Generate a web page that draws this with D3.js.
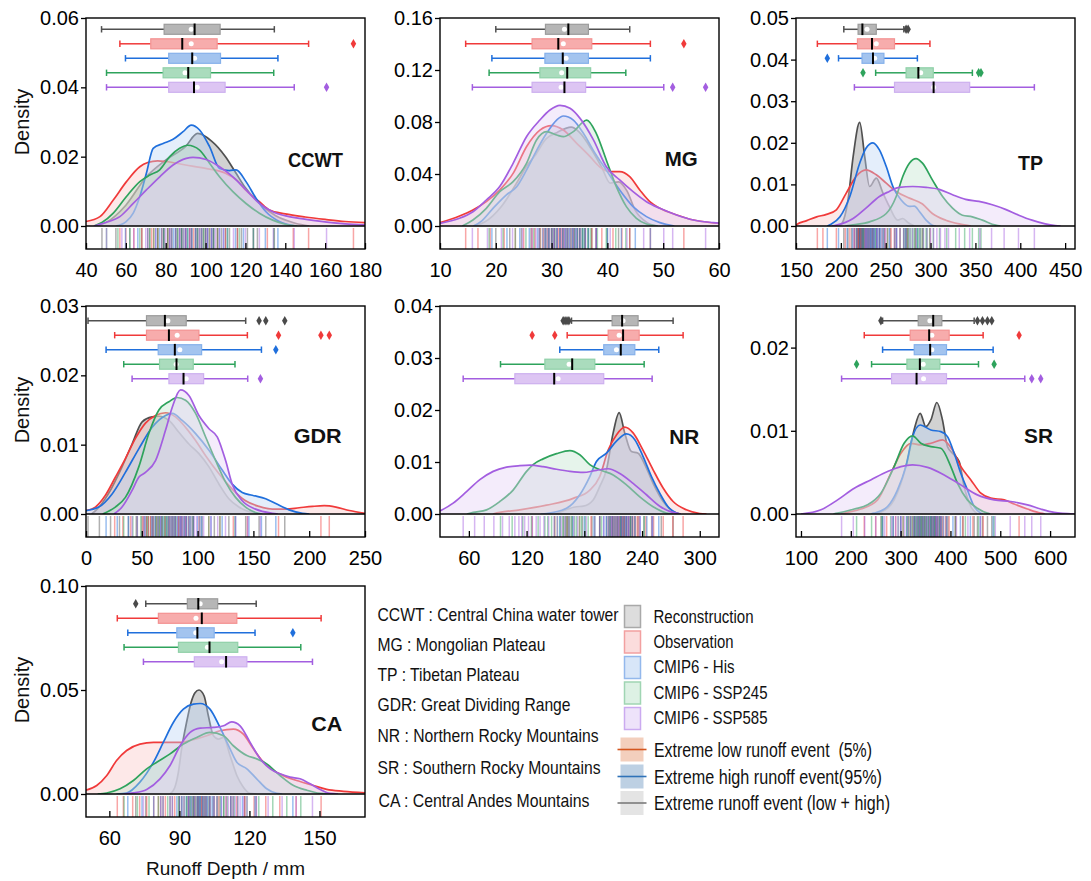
<!DOCTYPE html>
<html>
<head>
<meta charset="utf-8">
<script src="https://cdn.jsdelivr.net/npm/d3@7"></script>
<style>
  body { margin: 0; background: #fff; }
  svg { display: block; font-family: "Liberation Sans", Arial, Helvetica, sans-serif; }
</style>
</head>
<body>
<svg id="chart" width="1091" height="881"></svg>
<script>
// ---------------------------------------------------------------
// Series and regions
// ---------------------------------------------------------------
const seriesNames = ["Reconstruction", "Observation", "CMIP6 - His", "CMIP6 - SSP245", "CMIP6 - SSP585"];
const regionCodes = ["CCWT", "MG", "TP", "GDR", "NR", "SR", "CA"];
const regionTitles = [
  "CCWT : Central China water tower",
  "MG : Mongolian Plateau",
  "TP : Tibetan Plateau",
  "GDR: Great Dividing Range",
  "NR : Northern Rocky Mountains",
  "SR : Southern Rocky Mountains",
  "CA : Central Andes Mountains"
];
const eventLabels = [
  "Extreme low runoff event  (5%)",
  "Extreme high runoff event(95%)",
  "Extreme runoff event (low + high)"
];

// Axis domains and tick labels per region
const xDomains = [[40, 180], [10, 60], [150, 461], [0, 250], [30, 320], [90, 650], [50, 169.5]];
const yMaxes = [0.06, 0.16, 0.05, 0.03, 0.04, 0.025, 0.10];
const xTickValues = [
  [40, 60, 80, 100, 120, 140, 160, 180],
  [10, 20, 30, 40, 50, 60],
  [150, 200, 250, 300, 350, 400, 450],
  [0, 50, 100, 150, 200, 250],
  [60, 120, 180, 240, 300],
  [100, 200, 300, 400, 500, 600],
  [60, 90, 120, 150]
];
const yTickValues = [
  [0, 0.02, 0.04, 0.06],
  [0, 0.04, 0.08, 0.12, 0.16],
  [0, 0.01, 0.02, 0.03, 0.04, 0.05],
  [0, 0.01, 0.02, 0.03],
  [0, 0.01, 0.02, 0.03, 0.04],
  [0, 0.01, 0.02],
  [0, 0.05, 0.10]
];

// ---------------------------------------------------------------
// Kernel density curves: [runoff depth (mm), density]
// order: Reconstruction, Observation, His, SSP245, SSP585
// ---------------------------------------------------------------
const densityCCWT = [
  [[45,0],[50,0.001],[60,0.006],[70,0.014],[80,0.019],[90,0.023],[96,0.0267],[103,0.0245],[110,0.02],[115,0.0155],[120,0.011],[127,0.0065],[135,0.003],[145,0.0008],[152,0]],
  [[40,0.0013],[47,0.0027],[53.7,0.0075],[60.3,0.0128],[67,0.0171],[71,0.0183],[76,0.0188],[80,0.0186],[90,0.0176],[100,0.0166],[110,0.0152],[116,0.013],[120,0.0104],[127,0.007],[132,0.0046],[140,0.0035],[150,0.0026],[160,0.0019],[170,0.0013],[180,0.001]],
  [[55,0],[60,0.0012],[63.7,0.0037],[67,0.0085],[70.3,0.0152],[73.7,0.0224],[78.7,0.0238],[83.7,0.025],[88.7,0.0272],[92.8,0.0291],[97,0.0277],[102,0.0229],[107,0.0166],[112,0.016],[115.3,0.0162],[120.3,0.0128],[125.3,0.008],[130.3,0.0041],[137,0.0013],[145,0]],
  [[44,0],[48,0.001],[53.7,0.0037],[60.3,0.0085],[67,0.0128],[72,0.0147],[77,0.0162],[82,0.02],[87,0.0224],[91,0.0233],[97,0.0219],[102,0.0181],[107,0.0142],[113.7,0.0099],[120.3,0.0065],[127,0.0037],[133.7,0.0017],[140,0.0005],[146,0]],
  [[44,0],[50,0.001],[57,0.0027],[63.7,0.0065],[70.3,0.0104],[77,0.0142],[83.7,0.0176],[90.3,0.0195],[93.7,0.0198],[100.3,0.0192],[107,0.0171],[113.7,0.0142],[120.3,0.0104],[127,0.0065],[133.7,0.0041],[140.3,0.0029],[147,0.0022],[157,0.0014],[170,0.0006],[180,0.0003]]
];
const densityMG = [
  [[16,0],[18,0.003],[21,0.015],[24,0.035],[25.5,0.046],[27,0.054],[29,0.067],[31,0.072],[33.5,0.076],[35,0.072],[37,0.06],[39,0.045],[40.5,0.033],[42,0.034],[43.5,0.027],[45,0.012],[47,0.003],[49,0]],
  [[10,0.0026],[13.5,0.0077],[15.9,0.0123],[18.3,0.0187],[20.7,0.0277],[23.1,0.0405],[25.5,0.061],[27.9,0.0738],[30,0.0772],[32.1,0.0738],[34.5,0.0636],[36.9,0.0533],[38.6,0.0456],[40.4,0.0418],[42.2,0.0418],[44,0.038],[45.8,0.0277],[47.6,0.0187],[49.4,0.0136],[52.4,0.0085],[55.4,0.0046],[60,0.002]],
  [[16,0],[17.5,0.004],[19.5,0.0136],[21.9,0.024],[23.7,0.03],[25.5,0.043],[27.3,0.058],[29.1,0.0713],[30.9,0.0815],[32.1,0.0846],[33.9,0.0815],[35.7,0.0713],[37.5,0.058],[39.8,0.043],[42.2,0.0277],[44.6,0.0149],[47,0.0072],[49.4,0.0026],[52,0]],
  [[14,0],[15.9,0.0046],[18.3,0.0136],[20.7,0.0264],[23.1,0.0341],[25.5,0.0482],[27.3,0.0662],[29.1,0.0726],[30.9,0.07],[32.1,0.0687],[33.9,0.0726],[36.3,0.0815],[38,0.0713],[39.8,0.0508],[41.6,0.0303],[43.4,0.0149],[45.2,0.0059],[47,0.0015],[49,0]],
  [[10,0.002],[13.5,0.0059],[15.9,0.011],[18.3,0.02],[20.7,0.0303],[23.1,0.0482],[25.5,0.0687],[27.9,0.0815],[29.7,0.0892],[31.5,0.0928],[33.3,0.0905],[35.1,0.0828],[37.5,0.0662],[39.8,0.0456],[42.2,0.0354],[44.6,0.0264],[47,0.0187],[49.4,0.0136],[52.4,0.0085],[55.4,0.0046],[59,0.0026],[60,0.0022]]
];
const densityTP = [
  [[198,0],[201,0.0005],[208,0.0063],[213.7,0.0167],[221,0.0249],[226.6,0.0167],[232,0.0095],[239.5,0.0115],[247,0.0079],[254,0.0047],[263.5,0.0014],[269,0.0018],[275,0.0008],[282,0]],
  [[150,0],[151,0.0004],[162,0.0013],[173,0.0022],[184,0.0028],[195,0.0039],[206,0.0079],[217,0.0119],[228,0.0135],[239.5,0.0123],[250.6,0.0103],[261.7,0.0083],[276.4,0.0067],[291,0.0053],[302,0.003],[317,0.0014],[332,0.0005],[345,0]],
  [[185,0],[188,0.0003],[199,0.0022],[210,0.0071],[221,0.0151],[228,0.0187],[235.8,0.02],[243,0.0183],[250.6,0.0143],[258,0.0095],[267,0.0063],[276.4,0.0047],[282,0.0048],[287.5,0.0035],[295,0.0014],[302,0.0002],[306,0]],
  [[205,0],[213.7,0.0003],[232,0.001],[250.6,0.003],[261.7,0.0071],[269,0.0119],[276.4,0.0151],[283.8,0.0162],[291,0.0151],[302,0.0111],[313.4,0.0071],[324.5,0.0043],[335.5,0.0026],[346.6,0.0022],[357.7,0.0014],[372.5,0.0002],[378,0]],
  [[190,0],[195,0.0002],[213.7,0.0018],[228,0.0043],[243,0.0071],[254,0.0083],[265,0.0093],[280,0.0095],[295,0.0093],[309.7,0.0088],[324.5,0.0075],[339,0.0064],[354,0.0059],[368.8,0.0051],[383.5,0.004],[398.3,0.0026],[413,0.0014],[427.8,0.0005],[439,0.0001],[445,0]]
];
const densityGDR = [
  [[5,0],[10,0.0007],[20,0.0029],[32.3,0.0068],[41.3,0.0101],[50.3,0.0133],[59.3,0.014],[65.3,0.0141],[74.3,0.0135],[83.2,0.0118],[92.2,0.0101],[101.2,0.0087],[110.2,0.0068],[119.2,0.0043],[128,0.0022],[137,0.001],[149,0.0002],[155,0]],
  [[0,0.0005],[8.4,0.001],[17.4,0.0027],[26.3,0.0053],[35.3,0.008],[44.3,0.0109],[53.3,0.0131],[62.3,0.0142],[71.3,0.0146],[80.2,0.014],[89.2,0.0125],[98.2,0.0106],[107.2,0.0084],[119.2,0.0058],[131,0.0036],[143,0.0019],[155,0.0011],[167,0.0007],[179,0.0007],[191,0.0009],[203,0.0011],[213.5,0.0012],[224,0.001],[236,0.0005],[250,0.0001]],
  [[0,0.0005],[11.4,0.001],[23.4,0.0029],[35.3,0.006],[47.3,0.0094],[59.3,0.0125],[71.3,0.0142],[77.3,0.0145],[86.2,0.0135],[98.2,0.0116],[110.2,0.0092],[122.2,0.0063],[131,0.0043],[140,0.0031],[149,0.0027],[161,0.0022],[170,0.0015],[182,0.0006],[194,0.0001],[200,0]],
  [[15,0],[26.3,0.001],[35.3,0.0024],[47.3,0.0068],[56.3,0.0116],[65.3,0.015],[74.3,0.0162],[81.7,0.0168],[89.2,0.0164],[98.2,0.0145],[107.2,0.0111],[116.2,0.0077],[125.1,0.0046],[134,0.0024],[143,0.001],[152,0.0002],[158,0]],
  [[25,0],[32.3,0.001],[41.3,0.0034],[47.3,0.0053],[53.3,0.006],[62.3,0.0077],[71.3,0.0121],[77.3,0.0154],[84.7,0.0179],[92.2,0.0171],[101.2,0.0142],[110.2,0.0123],[117.7,0.0111],[125.1,0.0077],[131,0.0043],[140,0.0019],[152,0.0007],[167,0.0001],[172,0]]
];
const densityNR = [
  [[150,0],[171.9,0.0014],[178.8,0.0015],[189.2,0.0027],[196.1,0.0053],[203,0.0085],[210,0.0156],[216.2,0.0195],[222,0.0156],[229,0.012],[235.9,0.0117],[242.9,0.0095],[251.5,0.0059],[262,0.0024],[272.3,0.0005],[280,0]],
  [[85,0],[92,0.0003],[113,0.0008],[140.7,0.0017],[168.4,0.003],[185.7,0.0046],[196,0.0072],[204.8,0.0123],[213.4,0.0152],[222,0.0167],[230.7,0.0156],[241,0.0123],[251.5,0.0085],[261.9,0.005],[272.3,0.0024],[286,0.0008],[300,0.0001],[307,0]],
  [[135,0],[140.7,0.0001],[161.5,0.0011],[175.3,0.0037],[185.7,0.0072],[192.6,0.0101],[203,0.0117],[213.4,0.014],[223.8,0.0154],[232.5,0.0143],[241,0.0111],[249.8,0.0072],[258.4,0.004],[267,0.0014],[275.7,0.0002],[280,0]],
  [[58,0],[64.5,0.0003],[78.4,0.0008],[92.2,0.0024],[106,0.0046],[120,0.0082],[126.8,0.0095],[137.2,0.0106],[151.1,0.0116],[165,0.0122],[175.3,0.0114],[185.7,0.0095],[196.1,0.0085],[210,0.0075],[223.8,0.0056],[237.7,0.0033],[251.5,0.0014],[265.4,0.0002],[272,0]],
  [[30,0.0006],[43.7,0.0021],[57.6,0.0043],[71.4,0.0066],[85.3,0.0082],[99.1,0.009],[113,0.0093],[123.4,0.0094],[137.2,0.0091],[151.1,0.0086],[165,0.0082],[178.8,0.008],[192.6,0.0084],[204.8,0.0087],[216.9,0.0078],[230.7,0.0059],[244.6,0.0037],[258.4,0.0015],[268.8,0.0005],[280,0]]
];
const densitySR = [
  [[250,0],[260,0.0002],[287,0.0017],[314,0.0065],[327,0.0101],[339.3,0.0121],[350.6,0.0105],[360.7,0.0113],[372.7,0.0134],[384,0.0113],[394,0.0081],[407.5,0.0071],[417.5,0.0063],[427.5,0.0033],[441,0.0009],[454,0]],
  [[180,0],[193.6,0.0002],[220,0.0006],[253.7,0.0017],[280.5,0.0049],[300.5,0.0073],[320.6,0.0085],[340.6,0.0083],[360.7,0.0085],[384,0.0089],[404,0.0077],[421,0.0057],[441,0.0041],[461,0.0025],[481,0.0019],[508,0.0017],[527.8,0.0012],[554.5,0.0006],[581,0.0001],[590,0]],
  [[240,0],[247,0.0001],[273.8,0.0009],[293.8,0.0029],[310.5,0.0057],[324,0.0093],[339.3,0.0107],[360.7,0.0101],[380.7,0.0099],[394,0.0093],[407.5,0.0073],[420.8,0.0049],[434,0.0029],[447.6,0.0009],[461,0.0001],[465,0]],
  [[165,0],[173.5,0.0001],[207,0.0006],[233.7,0.0011],[260.4,0.0025],[287,0.0057],[307,0.0085],[324,0.0094],[340.6,0.0085],[360.7,0.0081],[380.7,0.0079],[400.8,0.0057],[414,0.0037],[434,0.0017],[454,0.0007],[474,0.0001],[480,0]],
  [[100,0],[140,0.0005],[173.5,0.0017],[207,0.0031],[240,0.0041],[273.8,0.0051],[300.5,0.0057],[324,0.0059],[354,0.0056],[387.4,0.0047],[420.8,0.0035],[454,0.0023],[487.7,0.0017],[521,0.0015],[554.5,0.0011],[581,0.0006],[608,0.0002],[648,0]]
];
const densityCA = [
  [[86,0],[88,0.003],[89.5,0.01],[91,0.022],[93,0.034],[95,0.044],[96.7,0.0487],[98.4,0.05],[100.6,0.0471],[102.4,0.0376],[104.6,0.028],[106.7,0.0264],[108.9,0.0272],[111.7,0.0185],[114.6,0.0089],[117.4,0.0033],[120.3,0.0003],[123,0]],
  [[50,0.0018],[54.6,0.0041],[58.9,0.0089],[63.1,0.0161],[67.4,0.0209],[73.1,0.024],[78.9,0.0248],[84.6,0.0248],[90.3,0.0248],[96,0.0261],[101.7,0.028],[107.4,0.0304],[113.1,0.0312],[117.4,0.0288],[121.7,0.0217],[126,0.0153],[130.3,0.0113],[136,0.0081],[141.7,0.006],[147.4,0.0041],[153.1,0.0022],[160.3,0.0013],[169.5,0.0006]],
  [[63,0],[67.4,0.0005],[73.1,0.0057],[78.9,0.0153],[83.1,0.0248],[87.4,0.0344],[91.7,0.0408],[96,0.0432],[98.9,0.0435],[103.1,0.0408],[107.4,0.032],[111.7,0.0217],[114.6,0.0153],[118.9,0.0121],[123.1,0.0073],[127.4,0.0025],[131.7,0.0003],[134,0]],
  [[55,0],[58.9,0.0005],[64.6,0.0025],[70.3,0.0065],[76,0.0121],[80.3,0.0153],[86,0.0193],[91.7,0.024],[97.4,0.0272],[103.1,0.0296],[108.9,0.028],[113.1,0.0232],[118.9,0.0185],[123.1,0.0169],[127.4,0.0145],[133.1,0.0089],[138.9,0.0041],[144.6,0.0018],[150.3,0.0003],[154,0]],
  [[66,0],[70.3,0.0005],[76,0.0022],[81.7,0.0073],[86,0.0137],[90.3,0.0232],[94.6,0.0296],[98.9,0.0317],[104.6,0.032],[108.9,0.0328],[112.4,0.0347],[116,0.0328],[120.3,0.0248],[124.6,0.0169],[128.9,0.0121],[133.1,0.0097],[137.4,0.0081],[141.7,0.0073],[146,0.0049],[150.3,0.0022],[154.6,0.0003],[158,0]]
];

// ---------------------------------------------------------------
// Box-plot statistics: [whisker low, Q1, median, Q3, whisker high, mean, outliers]
// ---------------------------------------------------------------
const boxCCWT = [
  [47.8, 79.2, 94.5, 107.3, 134.5, 92.8, []],
  [57, 72.5, 88.3, 105.8, 151.7, 92.8, [174.2]],
  [59.8, 81.5, 93.3, 107.5, 136.3, 94.5, []],
  [50.3, 78.7, 91.3, 102.5, 134.2, 89.7, []],
  [50.3, 81.5, 94.2, 109.8, 144.5, 95.8, [160.7]]
];
const boxMG = [
  [20, 28.9, 33, 36.6, 44, 32.3, []],
  [14.6, 26.5, 31.2, 37.2, 47.7, 32.1, [53.7]],
  [19.3, 28.8, 32, 36.6, 47.7, 32.6, []],
  [18.8, 27.9, 32.8, 37, 43.3, 31.8, []],
  [15.8, 26.5, 32.3, 36.1, 50.1, 31.7, [51.7, 57.6]]
];
const boxTP = [
  [203.3, 219.2, 224, 239.5, 270.2, 229.2, [272.7, 275]],
  [173.8, 218.5, 234.7, 259.8, 299.3, 239.5, []],
  [197.4, 223.6, 235.8, 248, 285.3, 237.7, [184.9]],
  [238.8, 272.7, 286.4, 303, 346.6, 289, [224.7, 353.6, 356.2]],
  [215.1, 259.8, 303.4, 343.6, 415.7, 303.4, []]
];
const boxGDR = [
  [1.8, 54.2, 70.7, 89.8, 143.1, 73.4, [155.1, 161.1, 178.1]],
  [25.7, 54.2, 74.3, 101.2, 144.6, 81.7, [172.5, 210.5, 218]],
  [18, 64.7, 79.6, 103.6, 157.2, 84.1, [170.1]],
  [33.8, 65.9, 81.1, 96.1, 133.5, 80.8, []],
  [41.3, 74.3, 87.4, 105.4, 144.9, 89.8, [156.3]]
];
const boxNR = [
  [166.7, 208.9, 219.3, 235.9, 272.3, 220.3, [158, 160, 162, 164]],
  [162.2, 204.8, 220.3, 237, 282.7, 216.2, [125.8, 149.3]],
  [154.5, 200.2, 217.9, 232.5, 257.4, 213.4, []],
  [92.9, 139, 167.4, 190.9, 242.2, 164.2, []],
  [54.1, 107.8, 148.7, 200.2, 250.5, 152.8, []]
];
const boxSR = [
  [263.8, 335.3, 365.4, 382.7, 447.6, 358.7, [260.4, 454.2, 464.3, 474.3, 483]],
  [227, 319.2, 357.3, 397.4, 465.6, 362.7, [537.8]],
  [263.8, 327.3, 359.3, 392.1, 485.7, 362.7, []],
  [241.7, 312.6, 338.6, 378.7, 456.3, 345.3, [211.6, 487.7]],
  [181.5, 281.8, 332, 392.1, 549.2, 346, [563.2, 581.2]]
];
const boxCA = [
  [75.6, 93.4, 98.1, 106.4, 122.9, 98.9, [71.3]],
  [63.4, 81, 99.6, 114.6, 150.7, 97.1, []],
  [67.9, 88.9, 97.7, 104.9, 122.4, 97, [138.6]],
  [66.3, 89.6, 102.9, 115, 142, 102, []],
  [74.6, 96.4, 110, 118.9, 147, 108.1, []]
];

// ---------------------------------------------------------------
// Annual runoff depths shown as rug marks (mm)
// ---------------------------------------------------------------
const rugCCWT = [
  [48, 55, 62, 68, 72, 76, 79, 81, 83, 86, 88, 90, 92, 93, 95, 97, 99, 100, 101, 103, 104, 106, 108, 110, 112, 116, 118, 121, 126, 134.5],
  [57, 60, 64, 68, 71, 73, 74, 76, 78, 79, 81, 82, 85, 87, 88, 90, 92, 94, 96, 98, 100, 102, 104, 106, 110, 116, 124, 131, 144, 151.7, 174.2],
  [59.8, 66, 71, 75, 77, 79, 82, 84, 85, 87, 88, 90, 91, 93, 95, 96, 98, 100, 101, 103, 104, 107, 109, 111, 115, 119, 124, 130, 136.3],
  [50.3, 56, 62, 67, 72, 74, 76, 78, 79, 81, 83, 85, 86, 88, 89, 91, 93, 95, 96, 98, 99, 102, 104, 106, 111, 117, 124, 134.2],
  [50.3, 58, 64, 70, 75, 78, 80, 82, 83, 85, 87, 89, 90, 92, 93, 95, 97, 98, 101, 103, 105, 107, 109, 114, 120, 127, 134, 144.5, 160.7]
];
const rugMG = [
  [20, 22.5, 24.6, 26.3, 27.8, 28.9, 29.5, 30, 30.5, 31, 31.5, 32, 32.5, 33, 33.8, 34.2, 34.6, 35, 35.5, 36, 36.6, 37.2, 38, 40, 42, 44],
  [14.6, 16.8, 19, 21.5, 23.5, 25, 26.5, 27, 28, 28.6, 29.3, 30, 30.5, 31.2, 31.7, 32.2, 32.8, 33.5, 34, 35, 36, 37.2, 38, 39, 41, 42.6, 44, 47.7, 53.7],
  [19.3, 22, 24.3, 26, 27.5, 28.8, 29.4, 30, 30.5, 31, 31.5, 32, 32.4, 32.8, 33.2, 33.7, 34.2, 34.6, 35, 35.6, 36, 36.6, 38, 40, 42.5, 45, 47.7],
  [18.8, 21.3, 23.5, 25.4, 26.8, 27.9, 28.4, 29, 29.6, 30.2, 30.8, 31.5, 32, 32.8, 33.4, 34, 34.6, 35.2, 35.6, 36, 36.5, 37, 38.2, 39.8, 41.5, 43.3],
  [15.8, 18.5, 21, 23, 24.8, 26.5, 27.2, 27.8, 28.4, 29, 29.6, 30.3, 30.9, 31.5, 31.9, 32.3, 32.8, 33.3, 33.9, 34.5, 35.2, 36.1, 38, 40.5, 43.5, 46.5, 50.1, 51.7, 57.6]
];
const rugTP = [
  [203.3, 208, 212, 215, 217, 218, 219.2, 220, 220.5, 221, 221.5, 222.5, 223, 224, 225, 226, 227.5, 229, 231, 233, 235, 236, 239.5, 243, 248, 255, 262, 270.2, 272.7, 275],
  [173.8, 180, 195, 205, 210, 215, 218.5, 220, 222, 224, 226, 228, 230, 232, 234.7, 237, 240, 243, 246, 249, 252, 256, 259.8, 266, 274, 283, 291, 299.3],
  [184.9, 197.4, 207, 213, 218, 221, 223.6, 225, 227, 228.5, 230, 231.5, 233, 234, 235.8, 237, 238, 240, 241, 243, 244, 246, 248, 254, 262, 272, 285.3],
  [224.7, 238.8, 252, 260, 266, 270, 272.7, 274, 276, 278, 280, 282, 283, 285, 286.4, 288, 289, 291, 292, 295, 296, 299, 303, 310, 318, 328, 338, 346.6, 353.6, 356.2],
  [215.1, 228, 240, 250, 259.8, 262, 266, 270, 273, 277, 280, 284, 288, 292, 296, 300, 303.4, 307, 311, 316, 320, 332, 343.6, 355, 368, 382, 398, 415.7]
];
const rugGDR = [
  [1.8, 12, 22, 30, 38, 45, 50, 52, 54.2, 56, 58, 60, 62, 64, 66, 68, 70.7, 73, 75, 78, 80, 83, 85, 89.8, 96, 104, 115, 128, 143.1, 155.1, 161.1, 178.1],
  [25.7, 33, 40, 46, 51, 54.2, 56, 58, 60, 63, 65, 68, 71, 74.3, 77, 80, 83, 86, 89, 92, 96, 101.2, 110, 120, 132, 144.6, 172.5, 210.5, 218],
  [18, 28, 38, 46, 53, 59, 62, 64.7, 67, 69, 72, 74, 77, 79.6, 82, 85, 88, 90, 93, 96, 100, 103.6, 112, 122, 134, 146, 157.2, 170.1],
  [33.8, 42, 49, 55, 60, 63, 65.9, 68, 70, 72, 74, 76, 78, 80, 81.1, 84, 86, 88, 90, 92, 94, 96.1, 102, 110, 120, 133.5],
  [41.3, 52, 60, 67, 74.3, 76, 78, 80, 82, 84, 85, 86, 87.4, 89, 90, 92, 94, 97, 99, 102, 105.4, 112, 118, 125, 134, 144.9, 156.3]
];
const rugNR = [
  [158, 160, 162, 164, 166.7, 178, 188, 196, 203, 206, 208.9, 210, 212, 214, 215, 217, 218, 219.3, 221, 222, 224, 226, 228, 230, 233, 235.9, 242, 250, 260, 272.3],
  [125.8, 149.3, 162.2, 175, 187, 196, 204.8, 207, 209, 211, 213, 215, 217, 219, 220.3, 222, 224, 226, 228, 230, 232, 235, 237, 244, 252, 262, 272, 282.7],
  [154.5, 168, 180, 190, 196, 200.2, 203, 205, 207, 209, 211, 213, 215, 217.9, 219, 221, 223, 224, 226, 228, 230, 232.5, 238, 245, 251, 257.4],
  [92.9, 105, 116, 125, 132, 139, 142, 146, 149, 152, 155, 158, 161, 163, 165, 167.4, 170, 172, 175, 177, 181, 184, 190.9, 198, 207, 217, 228, 242.2],
  [54.1, 66, 76, 86, 95, 102, 107.8, 112, 115, 118, 122, 126, 130, 134, 138, 143, 148.7, 152, 156, 160, 164, 169, 173, 182, 191, 200.2, 208, 216, 226, 238, 250.5]
];
const rugSR = [
  [260.4, 263.8, 285, 300, 315, 328, 335.3, 338, 340, 343, 345, 348, 352, 356, 360, 362, 365.4, 368, 370, 372, 374, 378, 380, 382.7, 395, 410, 425, 447.6, 454.2, 464.3, 474.3, 483],
  [227, 250, 272, 290, 305, 319.2, 324, 328, 333, 338, 343, 348, 352, 357.3, 362, 366, 370, 375, 380, 385, 390, 397.4, 410, 425, 445, 465.6, 537.8],
  [263.8, 285, 300, 312, 320, 327.3, 331, 335, 339, 343, 347, 351, 355, 359.3, 362, 366, 369, 373, 377, 381, 386, 392.1, 405, 420, 440, 460, 485.7],
  [211.6, 241.7, 262, 280, 295, 305, 312.6, 316, 320, 323, 326, 329, 332, 335, 338.6, 342, 345, 349, 352, 356, 360, 364, 368, 378.7, 392, 410, 430, 456.3, 487.7],
  [181.5, 205, 228, 250, 268, 281.8, 290, 295, 301, 308, 314, 320, 326, 332, 338, 345, 352, 358, 365, 372, 380, 392.1, 412, 435, 460, 490, 520, 549.2, 563.2, 581.2]
];
const rugCA = [
  [71.3, 75.6, 82, 87, 90, 93.4, 94, 95, 95.8, 96.5, 96.8, 97.5, 97.8, 98.1, 98.6, 99, 99.5, 100, 100.6, 101.5, 102.3, 103, 106.4, 109, 113, 118, 122.9],
  [63.4, 66, 70, 73, 76, 79, 81, 83, 84, 86, 88, 90, 92, 94, 96, 98, 99.6, 101, 103, 105, 107, 110, 112, 114.6, 118, 122, 127, 133, 140, 150.7],
  [67.9, 74, 79, 83, 86, 88.9, 90, 91, 92, 93, 94, 95, 96, 97.7, 98.4, 99, 100, 101, 102, 103, 104, 104.9, 108, 112, 117, 122.4, 138.6],
  [66.3, 72, 77, 81, 85, 89.6, 91, 93, 94.5, 96, 98, 100, 101.5, 102.9, 104.5, 106, 107.5, 109, 110.5, 112, 113.5, 115, 119, 124, 130, 136, 142],
  [74.6, 82, 87, 91, 94, 96.4, 98, 100, 101.5, 103, 104.5, 106, 108, 110, 111, 112, 113, 114, 115, 116, 117.5, 118.9, 123, 128, 134, 140, 147]
];

const densities = [densityCCWT, densityMG, densityTP, densityGDR, densityNR, densitySR, densityCA];
const boxes = [boxCCWT, boxMG, boxTP, boxGDR, boxNR, boxSR, boxCA];
const rugs = [rugCCWT, rugMG, rugTP, rugGDR, rugNR, rugSR, rugCA];

// ---------------------------------------------------------------
// Styling
// ---------------------------------------------------------------
const lineColors = ["#505050", "#f03a3a", "#1f6fdc", "#2ea35c", "#a35ee0"];
const areaFills = ["#8e8e8e", "#fac5c5", "#bcd4f5", "#c0e3ce", "#e3cff6"];
const areaOpacity = [0.4, 0.4, 0.4, 0.4, 0.4];
const boxFills = ["#b6b6b6", "#f7acac", "#a3c4ef", "#aadcbd", "#ddc5f3"];
const boxStrokes = ["#9c9c9c", "#f39292", "#86b1ea", "#8fd0a8", "#cdb0ef"];
const outlierColors = ["#4a4a4a", "#f03a3a", "#1f6fdc", "#2ea35c", "#a35ee0"];
const swatchFills = ["#dddddd", "#fbdcdc", "#d8e6f8", "#ddf1e4", "#eee3fa"];
const swatchStrokes = ["#a9a9a9", "#f2a0a0", "#93b8ec", "#a0d5b3", "#cbaaf0"];
const eventFills = ["#f3cfbd", "#bdd0e3", "#e4e4e4"];
const eventLines = ["#d4561f", "#2f72b8", "#7a7a7a"];

const FONT = '"Liberation Sans", Arial, Helvetica, sans-serif';

// Panel geometry
const colX = [86, 440, 796];
const rowY = [18, 306, 586];
const PW = 279;          // frame width
const DH = 208;          // height of the density area (top of frame to y = 0)
const FH = 231;          // full frame height (density area + rug band)
const boxTop = [11.3, 14.7, 17.8];
const boxStep = 14.5;
const boxH = 10;
// region tag positions: [right edge offset from frame right, baseline offset from frame top]
const tagPos = [[22, 148.7], [21.3, 147.7], [32, 152], [23.3, 137.3], [19.7, 138.3], [22, 137.3], [22.7, 144.7]];
const tagWidths = [55, 33, 25, 48, 30, 29, 31];

const svg = d3.select("#chart");
const defs = svg.append("defs");

regionCodes.forEach((code, i) => {
  const col = i % 3, row = Math.floor(i / 3);
  const g = svg.append("g").attr("transform", `translate(${colX[col]},${rowY[row]})`);

  const x = d3.scaleLinear().domain(xDomains[i]).range([0, PW]);
  const y = d3.scaleLinear().domain([0, yMaxes[i]]).range([DH, 0]);

  const clipId = "clip-" + code;
  defs.append("clipPath").attr("id", clipId)
    .append("rect").attr("x", 0).attr("y", 0).attr("width", PW).attr("height", DH);

  // density curves, drawn in series order so later fills veil earlier outlines
  const gd = g.append("g").attr("clip-path", `url(#${clipId})`);
  const area = d3.area().x(d => x(d[0])).y0(y(0)).y1(d => y(d[1])).curve(d3.curveMonotoneX);
  const line = d3.line().x(d => x(d[0])).y(d => y(d[1])).curve(d3.curveMonotoneX);
  densities[i].forEach((pts, s) => {
    gd.append("path").attr("d", area(pts))
      .attr("fill", areaFills[s]).attr("fill-opacity", areaOpacity[s]).attr("stroke", "none");
    gd.append("path").attr("d", line(pts))
      .attr("fill", "none").attr("stroke", lineColors[s]).attr("stroke-width", 1.7)
      .attr("stroke-linejoin", "round");
  });

  // rug marks below y = 0
  const gr = g.append("g");
  rugs[i].forEach((vals, s) => {
    gr.selectAll(null).data(vals).enter().append("line")
      .attr("x1", d => x(d)).attr("x2", d => x(d))
      .attr("y1", DH + 2).attr("y2", FH)
      .attr("stroke", lineColors[s]).attr("stroke-width", 1.5).attr("stroke-opacity", 0.45);
  });

  // box plots
  const gb = g.append("g");
  boxes[i].forEach((b, s) => {
    const [lo, q1, med, q3, hi, mean, outs] = b;
    const cy = boxTop[row] + s * boxStep;
    const c = lineColors[s];
    gb.append("line").attr("x1", x(lo)).attr("x2", x(q1)).attr("y1", cy).attr("y2", cy)
      .attr("stroke", c).attr("stroke-width", 1.5);
    gb.append("line").attr("x1", x(q3)).attr("x2", x(hi)).attr("y1", cy).attr("y2", cy)
      .attr("stroke", c).attr("stroke-width", 1.5);
    [lo, hi].forEach(v => {
      gb.append("line").attr("x1", x(v)).attr("x2", x(v)).attr("y1", cy - 3.2).attr("y2", cy + 3.2)
        .attr("stroke", c).attr("stroke-width", 1.5);
    });
    gb.append("rect").attr("x", x(q1)).attr("y", cy - boxH / 2)
      .attr("width", x(q3) - x(q1)).attr("height", boxH)
      .attr("fill", boxFills[s]).attr("stroke", boxStrokes[s]).attr("stroke-width", 1.2);
    gb.append("circle").attr("cx", x(mean)).attr("cy", cy).attr("r", 2.5).attr("fill", "#fff");
    gb.append("line").attr("x1", x(med)).attr("x2", x(med))
      .attr("y1", cy - boxH / 2 - 0.8).attr("y2", cy + boxH / 2 + 0.8)
      .attr("stroke", "#000").attr("stroke-width", 2);
    gb.selectAll(null).data(outs).enter().append("path")
      .attr("d", d3.symbol().type(d3.symbolDiamond).size(26))
      .attr("transform", d => `translate(${x(d)},${cy})`)
      .attr("fill", outlierColors[s]);
  });

  // y = 0 baseline
  g.append("line").attr("x1", 0).attr("x2", PW).attr("y1", y(0)).attr("y2", y(0))
    .attr("stroke", "#000").attr("stroke-width", 1.6);

  // axes
  const ax = g.append("g").attr("transform", `translate(0,${FH})`)
    .call(d3.axisBottom(x).tickValues(xTickValues[i]).tickFormat(d3.format("d"))
      .tickSizeInner(-6).tickSizeOuter(0).tickPadding(13.5));
  const ay = g.append("g")
    .call(d3.axisLeft(y).tickValues(yTickValues[i]).tickFormat(d3.format(".2f"))
      .tickSizeInner(5).tickSizeOuter(0).tickPadding(2));
  [ax, ay].forEach(a => {
    a.select(".domain").remove();
    a.selectAll(".tick line").attr("stroke", "#000").attr("stroke-width", 1.3);
    a.selectAll(".tick text").attr("fill", "#000").attr("font-size", 20).attr("font-family", FONT);
  });

  // frame
  g.append("rect").attr("x", 0).attr("y", 0).attr("width", PW).attr("height", FH)
    .attr("fill", "none").attr("stroke", "#000").attr("stroke-width", 1.4);

  // region tag
  g.append("text").attr("x", PW - tagPos[i][0]).attr("y", tagPos[i][1])
    .attr("text-anchor", "end").attr("font-size", 21).attr("font-weight", "bold")
    .attr("textLength", tagWidths[i]).attr("lengthAdjust", "spacingAndGlyphs")
    .attr("fill", "#111").text(code);

  if (col === 0) {
    g.append("text")
      .attr("transform", `translate(${29 - colX[0]},${DH / 2}) rotate(-90)`)
      .attr("text-anchor", "middle").attr("font-size", 20).attr("fill", "#111")
      .text("Density");
  }
});

// x-axis title under the bottom panel
svg.append("text").attr("x", colX[0] + PW / 2).attr("y", 875)
  .attr("text-anchor", "middle").attr("font-size", 17.5).attr("fill", "#111")
  .attr("textLength", 159).attr("lengthAdjust", "spacingAndGlyphs")
  .text("Runoff Depth / mm");

// ---------------------------------------------------------------
// Legend: region abbreviations
// ---------------------------------------------------------------
const titleBaselines = [620.7, 650.7, 680.7, 710.7, 741.7, 774, 806.7];
const titleWidths = [241, 168, 142, 193, 221, 223, 211];
const titleX = [377.5, 377.5, 377.5, 377.5, 377.5, 377.5, 378.5];
svg.append("g").selectAll("text").data(regionTitles).enter().append("text")
  .attr("x", (d, k) => titleX[k]).attr("y", (d, k) => titleBaselines[k])
  .attr("font-size", 18.5).attr("fill", "#111")
  .attr("textLength", (d, k) => titleWidths[k]).attr("lengthAdjust", "spacingAndGlyphs")
  .text(d => d);

// Legend: series swatches
const swatchY = [605.5, 631, 656.5, 682, 707.5];
const labelBase = [623.3, 648.3, 673.3, 699, 724.3];
const labelWidths = [100, 80, 81, 114, 114];
const lg = svg.append("g");
seriesNames.forEach((name, s) => {
  lg.append("rect").attr("x", 624.5).attr("y", swatchY[s]).attr("width", 16).attr("height", 22)
    .attr("fill", swatchFills[s]).attr("stroke", swatchStrokes[s]).attr("stroke-width", 1.5);
  lg.append("text").attr("x", 653.5).attr("y", labelBase[s])
    .attr("font-size", 18.5).attr("fill", "#111")
    .attr("textLength", labelWidths[s]).attr("lengthAdjust", "spacingAndGlyphs")
    .text(name);
});

// Legend: extreme event patches
const eventMid = [749.5, 776.5, 803];
const eventBase = [756.7, 784.3, 810];
const eventWidths = [218, 228, 236];
eventLabels.forEach((lab, k) => {
  lg.append("rect").attr("x", 620.5).attr("y", eventMid[k] - 12).attr("width", 23).attr("height", 24)
    .attr("fill", eventFills[k]);
  lg.append("line").attr("x1", 617.5).attr("x2", 646.5).attr("y1", eventMid[k]).attr("y2", eventMid[k])
    .attr("stroke", eventLines[k]).attr("stroke-width", 1.6);
  lg.append("text").attr("x", 654).attr("y", eventBase[k])
    .attr("font-size", 20.5).attr("fill", "#111").style("white-space", "pre")
    .attr("textLength", eventWidths[k]).attr("lengthAdjust", "spacingAndGlyphs")
    .text(lab);
});
</script>
</body>
</html>
